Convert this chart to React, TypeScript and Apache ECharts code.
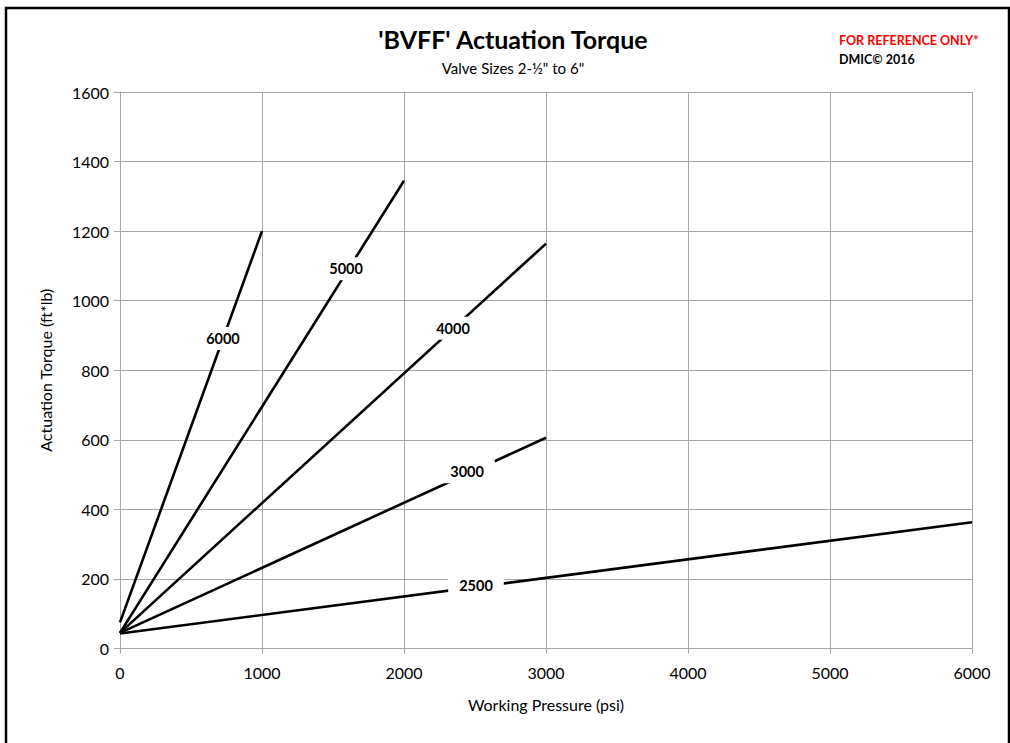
import React, { useEffect, useRef } from "react";
import * as echarts from "echarts";

const seriesNames = ["6000", "5000", "4000", "3000", "2500"];
const lineData: number[][][] = [
  [[0, 75], [1000, 1200]],
  [[0, 45], [2000, 1345]],
  [[0, 45], [3000, 1164]],
  [[0, 45], [3000, 606]],
  [[0, 43], [6000, 363]],
];
const labelPoints: number[][] = [
  [725, 891],
  [1592, 1092],
  [2345, 921],
  [2444, 508],
  [2507, 180],
];
const xTicks = [0, 1000, 2000, 3000, 4000, 5000, 6000];
const yTicks = [0, 200, 400, 600, 800, 1000, 1200, 1400, 1600];

const FONT = "Lato, 'Open Sans', sans-serif";

export default function App() {
  const ref = useRef<HTMLDivElement>(null);
  useEffect(() => {
    if (!ref.current) return;
    const chart = echarts.init(ref.current, undefined, { renderer: "svg" });
    chart.setOption({
      animation: false,
      backgroundColor: "#fff",
      textStyle: { fontFamily: FONT },
      title: [
        {
          text: "'BVFF' Actuation Torque",
          subtext: 'Valve Sizes 2-½" to 6"',
          left: 508,
          textAlign: "center",
          top: 21,
          itemGap: 9,
          textStyle: { fontFamily: FONT, fontSize: 25, fontWeight: "bold", color: "#000" },
          subtextStyle: { fontFamily: FONT, fontSize: 15, color: "#000" },
        },
      ],
      graphic: [
        {
          type: "rect",
          shape: { x: 6, y: 8, width: 1003, height: 760 },
          style: { fill: "none", stroke: "#000", lineWidth: 2.5 },
          silent: true,
        },
        {
          type: "text",
          left: 839,
          top: 34,
          style: { text: "FOR REFERENCE ONLY*", fill: "#ff0000", font: `bold 12.5px ${FONT}` },
        },
        {
          type: "text",
          left: 839,
          top: 53,
          style: { text: "DMIC© 2016", fill: "#000", font: `bold 12.5px ${FONT}` },
        },
      ],
      grid: { left: 120, right: 38, top: 92, bottom: 94.5 },
      xAxis: {
        type: "value",
        min: xTicks[0],
        max: xTicks[xTicks.length - 1],
        interval: 1000,
        name: "Working Pressure (psi)",
        nameLocation: "middle",
        nameGap: 48,
        nameTextStyle: { fontFamily: FONT, fontSize: 16, color: "#000" },
        axisLine: { show: true, lineStyle: { color: "#a6a6a6", width: 1 } },
        axisTick: { show: true, length: 5, lineStyle: { color: "#a6a6a6" } },
        axisLabel: { fontFamily: FONT, fontSize: 16, color: "#000", margin: 16, formatter: (v: number) => String(v) },
        splitLine: { show: true, lineStyle: { color: "#a6a6a6", width: 1 } },
      },
      yAxis: {
        type: "value",
        min: yTicks[0],
        max: yTicks[yTicks.length - 1],
        interval: 200,
        name: "Actuation Torque (ft*lb)",
        nameLocation: "middle",
        nameGap: 67,
        nameTextStyle: { fontFamily: FONT, fontSize: 16, color: "#000" },
        axisLine: { show: true, lineStyle: { color: "#a6a6a6", width: 1 } },
        axisTick: { show: true, length: 6, lineStyle: { color: "#a6a6a6" } },
        axisLabel: { fontFamily: FONT, fontSize: 16, color: "#000", margin: 11, formatter: (v: number) => String(v) },
        splitLine: { show: true, lineStyle: { color: "#a6a6a6", width: 1 } },
      },
      series: seriesNames.map((name, i) => ({
        name,
        type: "line",
        data: lineData[i],
        symbol: "none",
        lineStyle: { color: "#000", width: 2.6 },
        markPoint: {
          symbol: "rect",
          symbolSize: 0,
          data: [{ name, coord: labelPoints[i] }],
          label: {
            show: true,
            position: "inside",
            formatter: name,
            backgroundColor: "#fff",
            padding: [4, 11],
            fontFamily: FONT,
            fontSize: 14.5,
            fontWeight: "bold",
            color: "#000",
          },
        },
      })),
    });
    return () => chart.dispose();
  }, []);
  return (
    <div
      ref={ref}
      style={{ position: "fixed", left: 0, top: 0, width: 1010, height: 743 }}
    />
  );
}
